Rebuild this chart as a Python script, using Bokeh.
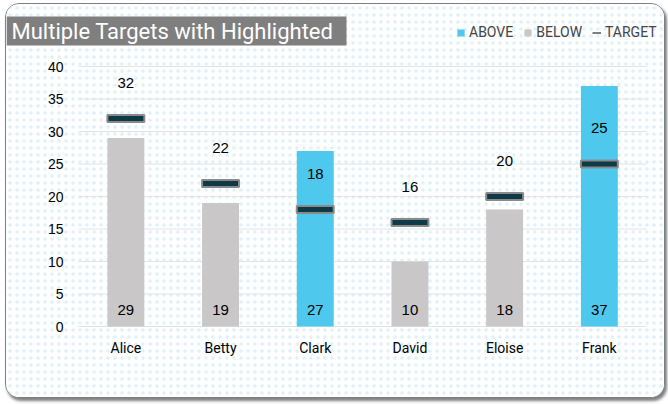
from bokeh.plotting import figure
from bokeh.models import (ColumnDataSource, LabelSet, Label, Legend, LegendItem,
                          Range1d, BoxAnnotation)
from bokeh.core.properties import value
from bokeh.embed import file_html
from bokeh.resources import INLINE

# ---- data ----
names = ["Alice", "Betty", "Clark", "David", "Eloise", "Frank"]
values = [29, 19, 27, 10, 18, 37]
targets = [32, 22, 18, 16, 20, 25]
y_ticks = [0, 5, 10, 15, 20, 25, 30, 35, 40]
title_text = "Multiple Targets with Highlighted"

# ---- style / layout ----
ABOVE_C = "#4FC8EE"
BELOW_C = "#C9C7C8"
TARGET_FILL = "#0E3A48"
TARGET_LINE = "#8A8A8A"
LBL_FONT = "Roboto"
NUM_FONT = "Liberation Sans"

W, H = 660, 395
SLOT_LEFT = 72.0      # px from figure left to first category slot
SLOT = 94.7           # px per category
ZERO_Y = 322.0        # px from figure top to value 0
PPU = 6.5             # px per value unit

xs = [i + 0.5 for i in range(len(names))]
colors = [ABOVE_C if v >= t else BELOW_C for v, t in zip(values, targets)]
src = ColumnDataSource(dict(x=xs, names=names, values=values, targets=targets,
                            colors=colors,
                            vlab=[str(v) for v in values],
                            tlab=[str(t) for t in targets],
                            zero=[0] * len(names)))

p = figure(width=W, height=H,
           x_range=Range1d(-SLOT_LEFT / SLOT, (W - SLOT_LEFT) / SLOT),
           y_range=Range1d(-(H - ZERO_Y) / PPU, ZERO_Y / PPU),
           x_axis_location=None, y_axis_location=None,
           output_backend="svg", toolbar_location=None, min_border=0,
           styles={"margin": "3px 0 0 5px", "border": "1px solid #7F7F7F",
                   "border-radius": "14px",
                   "box-shadow": "2px 3px 3px rgba(0,0,0,0.5)",
                   "overflow": "hidden", "background": "white"})
p.outline_line_color = None
p.grid.visible = False
p.background_fill_color = "white"
p.border_fill_color = "white"

# faint dotted background
p.add_layout(BoxAnnotation(fill_alpha=0, line_alpha=0, hatch_pattern="dot",
                           hatch_color="#BFE6F6", hatch_alpha=0.55,
                           hatch_scale=7, hatch_weight=0.6, level="underlay"))

# gridlines at tick values
p.segment(x0=0, x1=len(names), y0=y_ticks, y1=y_ticks,
          line_color="#E3E3E3", line_width=1)

bars = p.vbar(x="x", top="values", width=0.39, source=src,
              fill_color="colors", line_color=None)
p.rect(x="x", y="targets", width=0.39, height=7, height_units="screen",
       source=src, fill_color=TARGET_FILL, line_color=TARGET_LINE,
       line_width=2)
# legend-only dash glyph (no visible data)
dash = p.line(x=[float("nan")], y=[float("nan")], line_color="#7F7F7F",
              line_width=2)

# y tick labels
tick_src = ColumnDataSource(dict(x=[0] * len(y_ticks), y=y_ticks,
                                 t=[str(t) for t in y_ticks]))
p.add_layout(LabelSet(x="x", y="y", text="t", source=tick_src, x_offset=-15,
                      text_align="right", text_baseline="middle",
                      text_font=value(NUM_FONT), text_font_size="14px",
                      text_color="black"))
# x category labels
p.add_layout(LabelSet(x="x", y="zero", text="names", source=src, y_offset=-21,
                      text_align="center", text_baseline="middle",
                      text_font=value(LBL_FONT), text_font_size="14px",
                      text_color="black"))
# value and target labels
p.add_layout(LabelSet(x="x", y="zero", text="vlab", source=src,
                      y_offset=17, text_align="center", text_baseline="middle",
                      text_font=value(NUM_FONT), text_font_size="15px",
                      text_color="black"))
p.add_layout(LabelSet(x="x", y="targets", text="tlab", source=src,
                      y_offset=36, text_align="center", text_baseline="middle",
                      text_font=value(NUM_FONT), text_font_size="15px",
                      text_color="black"))

# title box
p.add_layout(BoxAnnotation(left=0, right=340, bottom=H - 41, top=H - 12,
                           left_units="screen", right_units="screen",
                           bottom_units="screen", top_units="screen",
                           fill_color="#7F7F7F", fill_alpha=1,
                           line_color=None))
p.add_layout(Label(x=5, y=H - 27, x_units="screen", y_units="screen",
                   text=title_text, text_font=LBL_FONT, text_font_size="22px",
                   text_color="white", text_baseline="middle"))

legend = Legend(items=[LegendItem(label="ABOVE", renderers=[bars], index=2),
                       LegendItem(label="BELOW", renderers=[bars], index=0),
                       LegendItem(label="TARGET", renderers=[dash])],
                orientation="horizontal", location=(450, H - 36),
                glyph_width=9, glyph_height=9, label_standoff=4, spacing=10,
                padding=0, margin=0, border_line_color=None,
                background_fill_alpha=0, label_text_font=LBL_FONT,
                label_text_font_size="14px", label_height=16)
p.add_layout(legend, "center")

open("out.html", "w").write(file_html(p, INLINE))
